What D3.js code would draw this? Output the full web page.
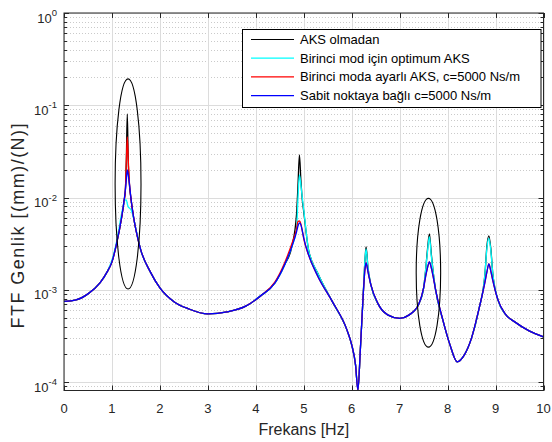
<!DOCTYPE html>
<html>
<head>
  <meta charset="utf-8">
  <script src="https://cdn.jsdelivr.net/npm/d3@7"></script>
  <style>
    html, body {
      margin: 0;
      background: #fff;
    }
    svg {
      font-family: "Liberation Sans", Arial, Helvetica, sans-serif;
    }
  </style>
</head>
<body>
<div id="chart"></div>
<script>
  // frequency grid [Hz], denser around the peaks
  var freq = [
    0, 0.25, 0.5, 0.75, 0.9, 1.0, 1.1, 1.2, 1.25, 1.28,
    1.3, 1.32, 1.34, 1.36, 1.4, 1.45, 1.5, 1.6, 1.8, 2.0,
    2.3, 2.6, 3.0, 3.4, 3.8, 4.1, 4.4, 4.6, 4.75, 4.85,
    4.88, 4.91, 4.94, 4.97, 5.0, 5.1, 5.3, 5.6, 5.9, 6.0,
    6.08, 6.13, 6.18, 6.24, 6.28, 6.3, 6.34, 6.4, 6.55, 6.75,
    7.0, 7.2, 7.4, 7.5, 7.54, 7.58, 7.62, 7.66, 7.7, 7.75,
    7.9, 8.05, 8.2, 8.35, 8.5, 8.65, 8.78, 8.82, 8.86, 8.9,
    8.94, 9.05, 9.2, 9.4, 9.7, 10
  ];

  // AKS olmadan (black)
  var noAbsorber = [
    7.48e-4, 7.77e-4, 9.03e-4, 1.188e-3, 1.563e-3, 2.005e-3, 3.22e-3, 6.01e-3, 8.96e-3, 1.209e-2,
    2.56e-2, 8.05e-2, 2.43e-2, 1.476e-2, 9.42e-3, 6.16e-3, 4.46e-3, 2.71e-3, 1.563e-3, 1.048e-3,
    7.39e-4, 6.21e-4, 5.48e-4, 5.76e-4, 6.69e-4, 8.59e-4, 1.188e-3, 1.862e-3, 2.92e-3, 6.64e-3,
    1.369e-2, 2.894e-2, 1.551e-2, 9.42e-3, 7.0e-3, 2.71e-3, 1.487e-3, 7.39e-4, 3.68e-4, 2.53e-4,
    1.536e-4, 8.2e-5, 2.23e-4, 8.81e-4, 2.22e-3, 2.92e-3, 1.727e-3, 1.13e-3, 7.03e-4, 5.35e-4,
    4.9e-4, 5.35e-4, 7.03e-4, 1.048e-3, 1.6e-3, 2.71e-3, 4.03e-3, 2.45e-3, 1.55e-3, 9.97e-4,
    4.72e-4, 2.53e-4, 1.656e-4, 1.971e-4, 3.01e-4, 6.06e-4, 1.5e-3, 2.99e-3, 3.84e-3, 2.84e-3,
    1.55e-3, 7.77e-4, 5.48e-4, 4.49e-4, 3.59e-4, 3.09e-4
  ];

  // Birinci mod için optimum AKS (cyan)
  var optimumFirst = [
    7.48e-4, 7.77e-4, 9.03e-4, 1.188e-3, 1.563e-3, 2.1e-3, 3.39e-3, 6.64e-3, 8.74e-3, 9.42e-3,
    9.42e-3, 8.52e-3, 7.91e-3, 7.72e-3, 7.34e-3, 6.01e-3, 4.57e-3, 2.71e-3, 1.563e-3, 1.048e-3,
    7.39e-4, 6.21e-4, 5.48e-4, 5.76e-4, 6.69e-4, 8.59e-4, 1.188e-3, 1.862e-3, 2.92e-3, 4.5e-3,
    9.9e-3, 1.757e-2, 1.369e-2, 9.9e-3, 7.34e-3, 2.71e-3, 1.487e-3, 7.39e-4, 3.68e-4, 2.53e-4,
    1.536e-4, 8.2e-5, 2.23e-4, 8.81e-4, 2.22e-3, 2.77e-3, 1.727e-3, 1.13e-3, 7.03e-4, 5.35e-4,
    4.9e-4, 5.35e-4, 7.03e-4, 1.048e-3, 1.6e-3, 2.57e-3, 3.77e-3, 2.33e-3, 1.55e-3, 9.97e-4,
    4.72e-4, 2.53e-4, 1.656e-4, 1.971e-4, 3.01e-4, 6.06e-4, 1.5e-3, 2.84e-3, 3.62e-3, 2.71e-3,
    1.55e-3, 7.77e-4, 5.48e-4, 4.49e-4, 3.59e-4, 3.09e-4
  ];

  // Birinci moda ayarlı AKS, c=5000 Ns/m (red)
  var tunedFirst = [
    7.48e-4, 7.77e-4, 9.03e-4, 1.188e-3, 1.563e-3, 2.005e-3, 3.22e-3, 6.01e-3, 8.96e-3, 1.209e-2,
    2.43e-2, 4.53e-2, 2.56e-2, 1.55e-2, 9.42e-3, 6.16e-3, 4.46e-3, 2.71e-3, 1.563e-3, 1.048e-3,
    7.39e-4, 6.21e-4, 5.48e-4, 5.76e-4, 6.69e-4, 8.59e-4, 1.22e-3, 1.956e-3, 3.14e-3, 4.57e-3,
    5.51e-3, 5.57e-3, 5.18e-3, 4.35e-3, 3.56e-3, 2.39e-3, 1.379e-3, 7.39e-4, 3.68e-4, 2.53e-4,
    1.536e-4, 8.2e-5, 2.23e-4, 8.81e-4, 1.727e-3, 1.956e-3, 1.563e-3, 1.13e-3, 7.03e-4, 5.35e-4,
    4.9e-4, 5.35e-4, 7.03e-4, 1.048e-3, 1.379e-3, 1.727e-3, 2.005e-3, 1.727e-3, 1.379e-3, 9.97e-4,
    4.72e-4, 2.53e-4, 1.656e-4, 1.971e-4, 3.01e-4, 6.06e-4, 1.218e-3, 1.563e-3, 1.908e-3, 1.602e-3,
    1.28e-3, 7.77e-4, 5.48e-4, 4.49e-4, 3.59e-4, 3.09e-4
  ];

  // Sabit noktaya bağlı c=5000 Ns/m (blue)
  var groundedDamper = [
    7.48e-4, 7.77e-4, 9.03e-4, 1.188e-3, 1.563e-3, 2.005e-3, 3.22e-3, 6.01e-3, 8.96e-3, 1.209e-2,
    1.551e-2, 1.991e-2, 1.757e-2, 1.476e-2, 9.42e-3, 6.16e-3, 4.46e-3, 2.71e-3, 1.563e-3, 1.048e-3,
    7.39e-4, 6.21e-4, 5.48e-4, 5.76e-4, 6.69e-4, 8.59e-4, 1.188e-3, 1.862e-3, 2.92e-3, 4.24e-3,
    4.92e-3, 5.31e-3, 5.05e-3, 4.35e-3, 3.65e-3, 2.39e-3, 1.379e-3, 7.39e-4, 3.68e-4, 2.53e-4,
    1.536e-4, 8.2e-5, 2.23e-4, 8.81e-4, 1.727e-3, 1.956e-3, 1.563e-3, 1.13e-3, 7.03e-4, 5.35e-4,
    4.9e-4, 5.35e-4, 7.03e-4, 1.048e-3, 1.379e-3, 1.727e-3, 2.005e-3, 1.727e-3, 1.379e-3, 9.97e-4,
    4.72e-4, 2.53e-4, 1.656e-4, 1.971e-4, 3.01e-4, 6.06e-4, 1.218e-3, 1.563e-3, 1.908e-3, 1.602e-3,
    1.28e-3, 7.77e-4, 5.48e-4, 4.49e-4, 3.59e-4, 3.09e-4
  ];

  var seriesNames = [
    "AKS olmadan",
    "Birinci mod için optimum AKS",
    "Birinci moda ayarlı AKS, c=5000 Ns/m",
    "Sabit noktaya bağlı c=5000 Ns/m"
  ];
  var seriesColors = ["#000000", "#00ffff", "#ff0000", "#0000ff"];

  var xTicks = [0, 1, 2, 3, 4, 5, 6, 7, 8, 9, 10];
  var yTickExponents = [0, -1, -2, -3, -4];
  var xDomain = [0, 10];
  var yDomain = [8.1e-5, 1];

  // annotation ellipses: centre frequency, half width [Hz], top / bottom amplitude
  var ellipseFreq = [1.336, 7.6];
  var ellipseHalfWidth = [0.27, 0.255];
  var ellipseTop = [0.193, 9.8e-3];
  var ellipseBottom = [1.02e-3, 2.39e-4];

  var xLabel = "Frekans [Hz]";
  var yLabel = "FTF Genlik [(mm)/(N)]";

  (function () {

  var seriesValues = [noAbsorber, optimumFirst, tunedFirst, groundedDamper];

  var width = 552, height = 442;
  var plotLeft = 64, plotRight = 543.5, plotTop = 13, plotBottom = 390.5;

  var svg = d3.select("#chart").append("svg")
      .attr("width", width)
      .attr("height", height);

  var x = d3.scaleLinear().domain(xDomain).range([plotLeft, plotRight]);
  var y = d3.scaleLog().domain(yDomain).range([plotBottom, plotTop]);

  // minor grid (dotted) on the log axis
  var minorVals = [];
  yTickExponents.forEach(function(e) {
    for (var k = 2; k <= 9; k++) {
      var v = k * Math.pow(10, e - 1);
      if (v > yDomain[0] && v < yDomain[1]) minorVals.push(v);
    }
  });

  function snap(v) { return Math.round(v) + 0.5; }

  var grid = svg.append("g");
  grid.selectAll("line.minor")
    .data(minorVals)
    .enter().append("line")
      .attr("class", "minor")
      .attr("x1", plotLeft).attr("x2", plotRight)
      .attr("y1", function(d) { return snap(y(d)); })
      .attr("y2", function(d) { return snap(y(d)); })
      .attr("stroke", "#bdbdbd")
      .attr("stroke-width", 0.8)
      .attr("stroke-dasharray", "1,2");

  grid.selectAll("line.hmajor")
    .data(yTickExponents)
    .enter().append("line")
      .attr("class", "hmajor")
      .attr("x1", plotLeft).attr("x2", plotRight)
      .attr("y1", function(d) { return snap(y(Math.pow(10, d))); })
      .attr("y2", function(d) { return snap(y(Math.pow(10, d))); })
      .attr("stroke", "#dcdcdc")
      .attr("stroke-width", 1);

  grid.selectAll("line.vmajor")
    .data(xTicks)
    .enter().append("line")
      .attr("class", "vmajor")
      .attr("x1", function(d) { return snap(x(d)); })
      .attr("x2", function(d) { return snap(x(d)); })
      .attr("y1", plotTop).attr("y2", plotBottom)
      .attr("stroke", "#dcdcdc")
      .attr("stroke-width", 1);

  // curves
  svg.append("clipPath").attr("id", "plot-clip")
    .append("rect")
      .attr("x", plotLeft).attr("y", plotTop)
      .attr("width", plotRight - plotLeft).attr("height", plotBottom - plotTop);

  var line = d3.line()
      .x(function(d, i) { return x(freq[i]); })
      .y(function(d) { return y(Math.max(d, yDomain[0])); })
      .curve(d3.curveMonotoneX);

  var curves = svg.append("g").attr("clip-path", "url(#plot-clip)");
  seriesValues.forEach(function(vals, i) {
    curves.append("path")
      .attr("d", line(vals))
      .attr("fill", "none")
      .attr("stroke", seriesColors[i])
      .attr("stroke-width", 1.3)
      .attr("stroke-linejoin", "round");
  });

  // ellipses around the peaks
  ellipseFreq.forEach(function(f, i) {
    var yt = y(ellipseTop[i]), yb = y(ellipseBottom[i]);
    svg.append("ellipse")
      .attr("cx", x(f))
      .attr("cy", (yt + yb) / 2)
      .attr("rx", x(f + ellipseHalfWidth[i]) - x(f))
      .attr("ry", (yb - yt) / 2)
      .attr("fill", "none")
      .attr("stroke", "#000")
      .attr("stroke-width", 1.1);
  });

  // axes box and ticks
  var axisColor = "#262626";
  svg.append("rect")
    .attr("x", plotLeft).attr("y", plotTop)
    .attr("width", plotRight - plotLeft).attr("height", plotBottom - plotTop)
    .attr("fill", "none")
    .attr("stroke", axisColor)
    .attr("stroke-width", 1);

  var ticks = svg.append("g").attr("stroke", axisColor).attr("stroke-width", 1);
  xTicks.forEach(function(t) {
    var px = snap(x(t));
    ticks.append("line").attr("x1", px).attr("x2", px).attr("y1", plotBottom).attr("y2", plotBottom - 5);
    ticks.append("line").attr("x1", px).attr("x2", px).attr("y1", plotTop).attr("y2", plotTop + 5);
  });
  yTickExponents.forEach(function(e) {
    var py = snap(y(Math.pow(10, e)));
    ticks.append("line").attr("x1", plotLeft).attr("x2", plotLeft + 5).attr("y1", py).attr("y2", py);
    ticks.append("line").attr("x1", plotRight).attr("x2", plotRight - 5).attr("y1", py).attr("y2", py);
  });
  minorVals.forEach(function(v) {
    var py = snap(y(v));
    ticks.append("line").attr("x1", plotLeft).attr("x2", plotLeft + 3).attr("y1", py).attr("y2", py);
    ticks.append("line").attr("x1", plotRight).attr("x2", plotRight - 3).attr("y1", py).attr("y2", py);
  });

  // tick labels
  svg.append("g").selectAll("text")
    .data(xTicks)
    .enter().append("text")
      .attr("x", function(d) { return x(d); })
      .attr("y", plotBottom + 22.5)
      .attr("text-anchor", "middle")
      .attr("font-size", 13)
      .attr("fill", axisColor)
      .text(function(d) { return d; });

  var yLabels = svg.append("g").selectAll("text")
    .data(yTickExponents)
    .enter().append("text")
      .attr("x", plotLeft - 7)
      .attr("y", function(d) { return y(Math.pow(10, d)) + 9.5; })
      .attr("text-anchor", "end")
      .attr("font-size", 13)
      .attr("fill", axisColor);
  yLabels.append("tspan").text("10");
  yLabels.append("tspan")
    .attr("dy", -6.5)
    .attr("font-size", 9.5)
    .text(function(d) { return d; });

  // axis titles
  svg.append("text")
    .attr("x", (plotLeft + plotRight) / 2)
    .attr("y", 435)
    .attr("text-anchor", "middle")
    .attr("font-size", 16)
    .attr("fill", axisColor)
    .text(xLabel);

  svg.append("text")
    .attr("transform", "translate(24,226) rotate(-90)")
    .attr("text-anchor", "middle")
    .attr("font-size", 18)
    .attr("textLength", 205)
    .attr("lengthAdjust", "spacing")
    .attr("fill", axisColor)
    .text(yLabel);

  // legend
  var legend = svg.append("g").attr("transform", "translate(242.5,29.5)");
  legend.append("rect")
    .attr("width", 298.5).attr("height", 78)
    .attr("fill", "#fff")
    .attr("stroke", "#000")
    .attr("stroke-width", 1);

  seriesNames.forEach(function(name, i) {
    var ly = 10 + i * 18.7;
    legend.append("line")
      .attr("x1", 8.5).attr("x2", 51.5)
      .attr("y1", ly).attr("y2", ly)
      .attr("stroke", seriesColors[i])
      .attr("stroke-width", 1.2);
    legend.append("text")
      .attr("x", 57.5)
      .attr("y", ly + 4.5)
      .attr("font-size", 13)
      .attr("fill", "#000")
      .text(name);
  });

  })();
</script>
</body>
</html>
